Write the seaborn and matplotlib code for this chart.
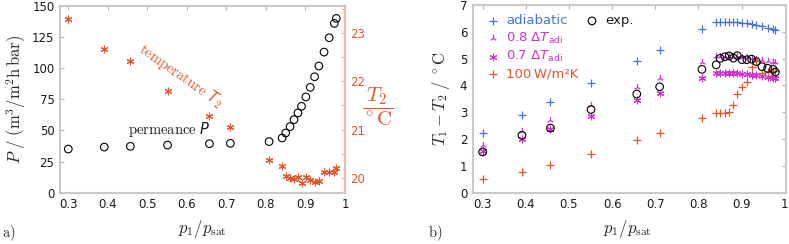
import matplotlib
matplotlib.use("Agg")
import matplotlib.pyplot as plt
import seaborn as sns
from matplotlib.ticker import FixedLocator, MultipleLocator

# ---------------- data ----------------
p_ratio = [0.300, 0.391, 0.457, 0.551, 0.657, 0.710, 0.808, 0.841, 0.850, 0.861,
           0.871, 0.881, 0.890, 0.901, 0.912, 0.923, 0.934, 0.947, 0.960, 0.973, 0.978]
permeance = [35.0, 36.6, 37.2, 38.2, 39.3, 39.6, 41.0, 43.9, 47.9, 53.0,
             58.6, 64.0, 69.3, 76.8, 84.5, 93.0, 101.6, 112.8, 124.3, 135.8, 139.8]
temp_T2 = [23.29, 22.68, 22.43, 21.81, 21.28, 21.05, 20.36, 20.25, 20.04, 19.99,
           19.97, 20.01, 19.90, 20.01, 19.96, 19.92, 19.94, 20.12, 20.12, 20.12, 20.21]

dT_adiabatic = [2.22, 2.88, 3.37, 4.08, 4.91, 5.33, 6.10, 6.35, 6.36, 6.37,
                6.37, 6.36, 6.36, 6.34, 6.32, 6.28, 6.25, 6.20, 6.15, 6.10, 6.08]
dT_08adi = [1.78, 2.30, 2.70, 3.26, 3.93, 4.26, 4.88, 5.08, 5.09, 5.10,
            5.10, 5.09, 5.09, 5.07, 5.06, 5.02, 5.00, 4.96, 4.92, 4.88, 4.86]
dT_07adi = [1.55, 2.02, 2.36, 2.86, 3.44, 3.73, 4.27, 4.45, 4.45, 4.46,
            4.46, 4.45, 4.45, 4.44, 4.42, 4.40, 4.38, 4.34, 4.31, 4.27, 4.26]
dT_100W = [0.50, 0.78, 1.02, 1.43, 1.95, 2.24, 2.77, 2.96, 2.96, 2.98,
           3.00, 3.27, 3.68, 3.94, 4.14, 4.70, 4.90, 4.47, 4.50, 4.53, 4.55]
dT_exp = [1.52, 2.14, 2.41, 3.10, 3.68, 3.95, 4.60, 4.77, 5.01, 5.07,
          5.10, 5.02, 5.11, 4.96, 4.96, 4.98, 4.89, 4.70, 4.64, 4.60, 4.50]

x_ticks = [0.3, 0.4, 0.5, 0.6, 0.7, 0.8, 0.9, 1.0]
x_ticklabels = ["0.3", "0.4", "0.5", "0.6", "0.7", "0.8", "0.9", "1"]
p_ticks = [0, 25, 50, 75, 100, 125, 150]
t2_ticks = [20, 21, 22, 23]
dT_ticks = [0, 1, 2, 3, 4, 5, 6, 7]

# ---------------- style ----------------
sns.set_theme(style="white")
plt.rcParams["font.family"] = ["DejaVu Sans"]
plt.rcParams["mathtext.fontset"] = "cm"

BLUE = "#4472d6"
MAG = "#d22fd2"
ORANGE = "#e2542b"
SALMON = "#f6b8a2"
SPINE = "#c9c9c9"
TICKC = "#b5b5b5"
ASTER = (6, 2, 0)

W, H = 789, 244
fig = plt.figure(figsize=(W / 100, H / 100), dpi=100)

def box(l, t, r, b):
    return [l / W, (H - b) / H, (r - l) / W, (b - t) / H]

ax1 = fig.add_axes(box(60, 5.7, 345, 192.7))
ax2 = fig.add_axes(box(472.7, 5.0, 785.7, 192.7))

def style_axes(ax, right=True):
    for s in ax.spines.values():
        s.set_color(SPINE)
        s.set_linewidth(1.5)
    ax.tick_params(axis="both", which="both", direction="in", length=3, width=0.8,
                   color=TICKC, top=True, right=right, labelsize=8.5, pad=4,
                   labelcolor="#1a1a1a")
    ax.set_xticks(x_ticks)
    ax.set_xticklabels(x_ticklabels)

S_CIRC, S_PLUS, S_TRI, S_AST = 30, 36, 26, 24

# ---------------- panel a ----------------
sns.scatterplot(x=p_ratio, y=permeance, ax=ax1, marker="o", s=S_CIRC,
                facecolors="none", edgecolor="black", linewidth=0.8, zorder=3)
ax1.set_xlim(0.279, 1.0)
ax1.set_ylim(0, 150)
ax1.set_yticks(p_ticks)
style_axes(ax1, right=False)
ax1.set_xlabel(r"$p_1/p_\mathrm{sat}$", fontsize=12)
ax1.xaxis.set_label_coords(0.5, -0.135)
ax1.set_ylabel(r"$P\ /\ (\mathrm{m^3/m^2h\,bar})$", fontsize=12, va="center")
ax1.yaxis.set_label_coords(-0.155, 0.5)

ax1t = ax1.twinx()
sns.scatterplot(x=p_ratio, y=temp_T2, ax=ax1t, marker=ASTER, s=S_AST,
                color=ORANGE, linewidth=0.8, zorder=3)
ax1t.set_ylim(19.69, 23.57)
ax1t.yaxis.set_major_locator(FixedLocator(t2_ticks))
ax1t.yaxis.set_minor_locator(MultipleLocator(0.5))
for k, s in ax1t.spines.items():
    s.set_visible(k == "right")
ax1t.spines["right"].set_color(SALMON)
ax1t.spines["right"].set_linewidth(1.5)
ax1t.tick_params(axis="y", which="both", direction="in", length=3, width=0.8,
                 color=SALMON, labelcolor=ORANGE, labelsize=8.5, pad=4)
ax1t.set_ylabel(r"$\dfrac{T_2}{{}^\circ\mathrm{C}}$", fontsize=15, color=ORANGE,
                rotation=0, ha="center", va="center")
ax1t.yaxis.set_label_coords(1.115, 0.46)

ax1.text(0.451, 50.3, r"$\mathrm{permeance}$ P", fontsize=10.5, fontstyle="italic",
         ha="left", va="center", color="#1a1a1a")
ax1t.text(0.585, 22.12, r"$\mathrm{temperature}$ T$_2$", fontsize=10.5,
          fontstyle="italic", ha="center", va="center", rotation=-35,
          rotation_mode="anchor", color=ORANGE)

# ---------------- panel b ----------------
sns.scatterplot(x=p_ratio, y=dT_adiabatic, ax=ax2, marker="+", s=S_PLUS,
                color=BLUE, linewidth=0.9, label="adiabatic", zorder=3)
sns.scatterplot(x=p_ratio, y=dT_08adi, ax=ax2, marker="2", s=S_TRI,
                color=MAG, linewidth=0.9, label=r"0.8 $\mathit{\Delta T}_\mathrm{adi}$", zorder=3)
sns.scatterplot(x=p_ratio, y=dT_07adi, ax=ax2, marker=ASTER, s=S_AST,
                color=MAG, linewidth=0.8, label=r"0.7 $\mathit{\Delta T}_\mathrm{adi}$", zorder=3)
sns.scatterplot(x=p_ratio, y=dT_100W, ax=ax2, marker="+", s=S_PLUS,
                color=ORANGE, linewidth=0.9, label="100\u2009W/m²K", zorder=3)
sns.scatterplot(x=p_ratio, y=dT_exp, ax=ax2, marker="o", s=S_CIRC,
                facecolors="none", edgecolor="black", linewidth=0.8, label="exp.", zorder=4)
ax2.set_xlim(0.277, 1.002)
ax2.set_ylim(0, 7)
ax2.set_yticks(dT_ticks)
style_axes(ax2, right=True)
ax2.set_xlabel(r"$p_1/p_\mathrm{sat}$", fontsize=12)
ax2.xaxis.set_label_coords(0.496, -0.135)
ax2.set_ylabel(r"$T_1 - T_2\ /\ {}^\circ\mathrm{C}$", fontsize=12, va="center")
ax2.yaxis.set_label_coords(-0.1, 0.5)

handles, labels = ax2.get_legend_handles_labels()
leg1 = ax2.legend(handles[:4], labels[:4], loc="upper left",
                  bbox_to_anchor=(0.045, 0.95), frameon=False, fontsize=9.5,
                  handlelength=1.0, handletextpad=0.45, labelspacing=0.25,
                  borderpad=0, borderaxespad=0)
for t, c in zip(leg1.get_texts(), [BLUE, MAG, MAG, ORANGE]):
    t.set_color(c)
    t.set_math_fontfamily("dejavusans")
ax2.add_artist(leg1)
leg2 = ax2.legend(handles[4:], labels[4:], loc="upper left",
                  bbox_to_anchor=(0.36, 0.95), frameon=False, fontsize=9.5,
                  handlelength=1.0, handletextpad=0.5, borderpad=0, borderaxespad=0)
for t in leg2.get_texts():
    t.set_color("#1a1a1a")

fig.text(2 / W, 1 - 233 / H, r"$\mathrm{a)}$", fontsize=10.5, ha="left", va="center")
fig.text(428 / W, 1 - 233 / H, r"$\mathrm{b)}$", fontsize=10.5, ha="left", va="center")

fig.savefig("out.png", dpi=100)
